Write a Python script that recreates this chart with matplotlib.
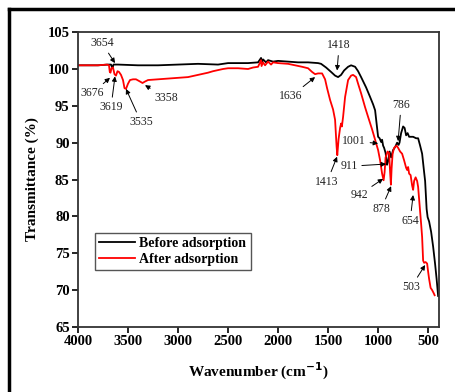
import matplotlib
matplotlib.use("Agg")
import matplotlib.pyplot as plt
from matplotlib.lines import Line2D

# FTIR spectra
before_wn = [4000, 3800, 3700, 3670, 3655, 3645, 3600, 3400, 3200, 3000, 2800, 2600,
             2500, 2400, 2300, 2200, 2170, 2160, 2150, 2120, 2100, 2050, 2000, 1900,
             1800, 1700, 1600, 1570, 1520, 1470, 1430, 1400, 1370, 1340, 1300, 1270,
             1230, 1200, 1170, 1120, 1080, 1050, 1030, 1010, 1000, 985, 970, 960, 950,
             940, 925, 911, 900, 885, 870, 850, 830, 810, 795, 786, 770, 750, 735, 720,
             705, 690, 670, 650, 620, 600, 580, 560, 540, 530, 515, 505, 490, 470, 450,
             430, 415, 400]
before_t = [100.5, 100.5, 100.6, 100.6, 100.1, 100.6, 100.6, 100.5, 100.5, 100.6, 100.7, 100.6,
            100.8, 100.8, 100.8, 100.9, 101.5, 100.9, 101.3, 100.9, 101.2, 101.0, 101.1, 101.0,
            100.9, 100.9, 100.8, 100.7, 100.2, 99.6, 99.1, 98.9, 99.2, 99.8, 100.3, 100.5,
            100.3, 99.7, 98.9, 97.5, 96.2, 95.2, 94.4, 92.0, 90.8, 90.6, 90.1, 90.4, 89.6,
            89.3, 88.6, 87.0, 87.5, 88.8, 88.0, 89.0, 89.4, 90.0, 89.7, 90.0, 91.3, 92.2, 92.0, 91.0,
            91.3, 90.8, 90.8, 90.8, 90.6, 90.6, 89.6, 88.5, 86.0, 84.8, 81.0, 79.9, 79.3, 77.9, 75.9,
            73.5, 71.5, 69.2]

after_wn = [4000, 3800, 3710, 3690, 3682, 3675, 3665, 3650, 3635, 3620, 3605, 3590, 3570,
            3550, 3535, 3520, 3500, 3480, 3450, 3420, 3380, 3355, 3330, 3300, 3200, 3100,
            3000, 2900, 2800, 2700, 2650, 2550, 2500, 2400, 2300, 2250, 2200, 2170, 2165,
            2150, 2130, 2100, 2070, 2050, 2000, 1900, 1830, 1760, 1700, 1660, 1630, 1600,
            1560, 1530, 1510, 1480, 1450, 1430, 1415, 1408, 1395, 1380, 1370, 1362, 1350,
            1330, 1300, 1270, 1250, 1220, 1200, 1170, 1130, 1100, 1060, 1030, 1000, 980,
            960, 945, 935, 925, 905, 890, 880, 872, 865, 855, 840, 815, 800, 780, 760, 740,
            720, 710, 700, 690, 675, 660, 650, 640, 625, 610, 600, 585, 570, 560, 550, 540,
            525, 510, 500, 490, 475, 460, 445, 435]
after_t = [100.5, 100.5, 100.6, 100.5, 99.6, 99.5, 100.1, 100.2, 99.3, 99.1, 99.7, 99.6, 99.2,
           98.5, 97.4, 97.3, 98.0, 98.5, 98.6, 98.6, 98.3, 98.1, 98.3, 98.5, 98.6, 98.7,
           98.8, 98.9, 99.2, 99.5, 99.7, 100.0, 100.1, 100.1, 100.0, 100.2, 100.3, 101.2, 100.4,
           100.9, 100.5, 101.0, 100.6, 100.9, 100.8, 100.7, 100.5, 100.3, 100.1, 99.6, 99.3, 99.4,
           99.4, 98.6, 97.4, 95.8, 94.5, 93.1, 89.5, 88.3, 90.5, 92.0, 92.6, 92.2, 93.5,
           96.2, 98.5, 99.1, 99.2, 98.9, 98.0, 96.7, 94.8, 93.5, 91.8, 90.4, 89.0, 87.6,
           85.8, 84.9, 86.0, 88.0, 88.8, 88.6, 86.0, 84.3, 86.5, 88.5, 89.3, 89.6, 89.3, 88.8, 88.5, 87.6,
           86.6, 86.3, 86.7, 85.8, 85.6, 84.2, 83.6, 84.8, 85.3, 84.8, 84.0, 81.5, 79.0, 77.2, 74.0, 73.7,
           73.8, 73.6, 72.5, 71.5, 70.3, 70.0, 69.6, 69.3]

# peak labels: (text, tip wavenumber, tip T, label wavenumber, label T)
peak_labels = [
    ("3654", 3630, 100.8, 3760, 103.5),
    ("3676", 3680, 98.8, 3860, 96.7),
    ("3619", 3630, 99.0, 3670, 94.8),
    ("3535", 3520, 97.3, 3370, 92.8),
    ("3358", 3330, 97.8, 3120, 96.1),
    ("1418", 1410, 99.8, 1390, 103.2),
    ("1636", 1630, 98.9, 1870, 96.3),
    ("786", 800, 90.2, 770, 95.1),
    ("1001", 1000, 89.9, 1240, 90.2),
    ("911", 920, 87.1, 1290, 86.8),
    ("1413", 1410, 88.1, 1510, 84.7),
    ("942", 950, 85.1, 1190, 82.9),
    ("878", 870, 84.1, 970, 81.0),
    ("654", 650, 82.9, 680, 79.4),
    ("503", 530, 73.4, 670, 70.4),
]

plt.rcParams['font.family'] = ['Liberation Serif', 'DejaVu Serif']

fig = plt.figure(figsize=(4.56, 3.92), dpi=100)
ax = fig.add_axes([0.171, 0.166, 0.792, 0.752])

ax.plot(before_wn, before_t, color='black', lw=1.3, label='Before adsorption')
ax.plot(after_wn, after_t, color='red', lw=1.3, label='After adsorption')

for txt, x, y, tx, ty in peak_labels:
    ax.annotate(txt, xy=(x, y), xytext=(tx, ty), fontsize=8.5,
                ha='center', va='center', color='#222222',
                arrowprops=dict(arrowstyle='-|>', color='black', lw=0.7,
                                mutation_scale=7, shrinkA=1, shrinkB=0))

ax.set_xlim(4000, 390)
ax.set_ylim(65, 105)
ax.set_xticks([4000, 3500, 3000, 2500, 2000, 1500, 1000, 500])
ax.set_yticks([65, 70, 75, 80, 85, 90, 95, 100, 105])
ax.tick_params(direction='out', length=4, width=1.2, labelsize=10.5, pad=2,
               top=False, right=False)
for lab in ax.get_xticklabels() + ax.get_yticklabels():
    lab.set_fontweight('bold')
for s in ax.spines.values():
    s.set_linewidth(1.3)
    s.set_color('#333333')

ax.set_xlabel('Wavenumber (cm$^{\\mathbf{-1}}$)', fontsize=11, fontweight='bold', labelpad=9)
ax.set_ylabel('Transmittance (%)', fontsize=11, fontweight='bold', labelpad=6)
plt.rcParams['mathtext.fontset'] = 'custom'

leg = ax.legend(loc='upper left', bbox_to_anchor=(0.047, 0.319), borderaxespad=0,
                fancybox=False, edgecolor='#555555', framealpha=1,
                prop={'weight': 'bold', 'size': 10}, handlelength=2.6,
                handletextpad=0.3, borderpad=0.3, labelspacing=0.2)
leg.get_frame().set_linewidth(1.0)

# partial outer frame (left and top edges)
fig.add_artist(Line2D([0.02, 0.02], [0.0, 0.978], transform=fig.transFigure,
                      color='black', lw=2.5))
fig.add_artist(Line2D([0.02, 1.0], [0.978, 0.978], transform=fig.transFigure,
                      color='black', lw=2.5))

fig.savefig('out.png', dpi=100)
